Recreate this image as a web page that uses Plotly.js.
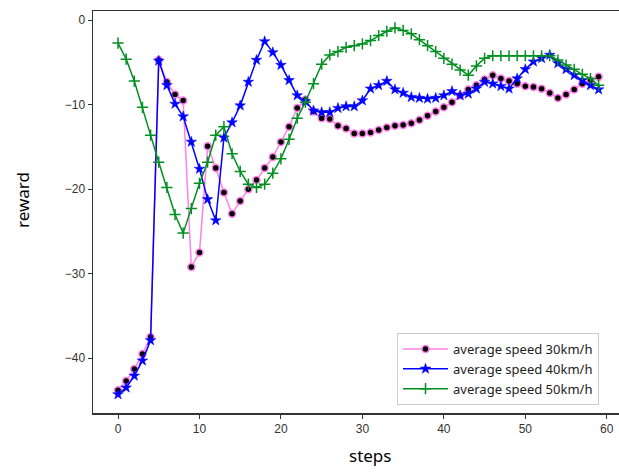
<!DOCTYPE html>
<html>
<head>
<meta charset="utf-8">
<script src="https://cdn.plot.ly/plotly-3.0.1.min.js"></script>
<style>html,body{margin:0;padding:0;background:#fff;}#chart{width:619px;height:474px;}</style>
</head>
<body>
<div id="chart"></div>
<script>
const steps = Array.from({length: 60}, (_, i) => i);
const seriesNames = ["average speed 30km/h", "average speed 40km/h", "average speed 50km/h"];
const speed30 = [-43.8,-42.7,-41.3,-39.5,-37.5,-4.7,-7.3,-8.8,-9.5,-29.2,
  -27.5,-14.9,-17.5,-20.4,-22.9,-21.4,-20.0,-18.9,-17.5,-16.2,
  -14.4,-12.6,-10.4,-9.4,-10.8,-11.6,-11.7,-12.5,-12.8,-13.4,
  -13.4,-13.3,-13.0,-12.7,-12.5,-12.4,-12.2,-11.8,-11.3,-10.8,
  -10.3,-9.7,-8.9,-8.2,-7.7,-7.0,-6.5,-6.9,-7.2,-7.5,
  -7.8,-7.9,-8.1,-8.6,-9.2,-8.8,-8.2,-7.5,-7.1,-6.7];
const speed40 = [-44.3,-43.5,-42.1,-40.3,-37.9,-4.8,-7.7,-9.9,-11.4,-14.4,
  -17.6,-21.2,-23.7,-13.9,-12.1,-10.1,-7.3,-4.7,-2.5,-3.8,
  -5.3,-7.1,-8.9,-9.6,-10.7,-10.9,-10.9,-10.4,-10.2,-10.2,
  -9.5,-8.1,-7.7,-7.2,-8.2,-8.6,-9.1,-9.2,-9.3,-9.2,
  -8.9,-8.4,-8.9,-8.7,-8.1,-7.3,-7.5,-7.8,-8.1,-6.9,
  -5.8,-4.9,-4.5,-4.1,-5.1,-5.8,-6.5,-7.1,-7.7,-8.2];
const speed50 = [-2.7,-4.6,-7.2,-10.3,-13.6,-16.8,-19.8,-23.0,-25.2,-22.3,
  -19.3,-16.8,-13.6,-12.6,-15.8,-17.9,-19.4,-19.8,-19.4,-18.1,
  -16.4,-14.1,-11.6,-9.7,-7.5,-5.2,-4.1,-3.7,-3.2,-3.0,
  -2.8,-2.4,-1.8,-1.3,-0.9,-1.2,-1.6,-2.3,-3.0,-3.7,
  -4.5,-5.2,-5.9,-6.5,-5.4,-4.5,-4.2,-4.2,-4.2,-4.2,
  -4.2,-4.2,-4.2,-4.2,-4.7,-5.3,-5.8,-6.4,-6.9,-7.7];
const xTicks = [0,10,20,30,40,50,60];
const yTicks = [0,-10,-20,-30,-40];

const traces = [
  {x: steps, y: speed30, name: seriesNames[0], mode: 'lines+markers',
   line: {color: '#ff80e8', width: 1.5},
   marker: {symbol: 'circle', size: 7, color: '#000000', line: {color: '#ff80e8', width: 1.5}}},
  {x: steps, y: speed40, name: seriesNames[1], mode: 'lines+markers',
   line: {color: '#0000ff', width: 1.5},
   marker: {symbol: 'star', size: 8, color: '#0000ff', line: {color: '#0000ff', width: 0.5}}},
  {x: steps, y: speed50, name: seriesNames[2], mode: 'lines+markers',
   line: {color: '#009020', width: 1.5},
   marker: {symbol: 'cross-thin', size: 8, color: '#009020', line: {color: '#009020', width: 1.5}}}
];

const layout = {
  width: 619, height: 474,
  margin: {l: 93, r: 0, t: 11, b: 61},
  paper_bgcolor: '#ffffff', plot_bgcolor: '#ffffff',
  showlegend: true,
  legend: {x: (397-93)/526, y: 0.02, xanchor: 'left', yanchor: 'bottom',
    bgcolor: '#ffffff', bordercolor: '#cccccc', borderwidth: 1,
    font: {family: 'Noto Sans, DejaVu Sans, sans-serif', size: 13, color: '#222'},
    tracegroupgap: 0, itemwidth: 45},
  xaxis: {range: [-3.07, 61.5], tickvals: xTicks, ticks: 'outside', ticklen: 4, tickcolor: '#333',
    showgrid: false, zeroline: false, showline: true, linecolor: '#333', linewidth: 1.5, mirror: true,
    tickfont: {family: 'Liberation Sans, Arial, sans-serif', size: 12, color: '#333'}},
  yaxis: {range: [-46.5, 1.1], tickvals: yTicks, ticks: 'outside', ticklen: 4, tickcolor: '#333',
    showgrid: false, zeroline: false, showline: true, linecolor: '#333', linewidth: 1.5, mirror: false,
    tickfont: {family: 'Liberation Sans, Arial, sans-serif', size: 12, color: '#333'}},
  annotations: [
    {text: 'steps', xref: 'paper', yref: 'paper', x: (370-93)/526, y: -0.105, xanchor: 'center', yanchor: 'middle',
     showarrow: false, font: {family: 'Noto Sans, DejaVu Sans, sans-serif', size: 17, color: '#000'}},
    {text: 'reward', xref: 'paper', yref: 'paper', x: (22-93)/526, y: (413-200)/402, xanchor: 'center', yanchor: 'middle',
     textangle: -90, showarrow: false, font: {family: 'Noto Sans, DejaVu Sans, sans-serif', size: 17, color: '#000'}}
  ]
};

Plotly.newPlot('chart', traces, layout, {displayModeBar: false, staticPlot: true});
</script>
</body>
</html>
